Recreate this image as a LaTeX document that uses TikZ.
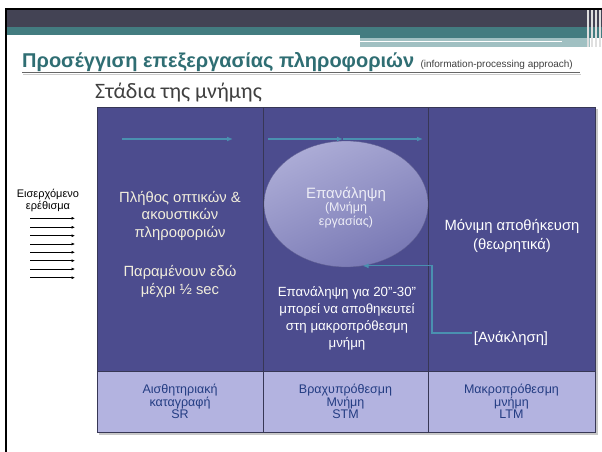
\documentclass[tikz,border=0pt]{standalone}
\usepackage{fontspec}
\setmainfont{Liberation Sans}
\newfontfamily\stagefont{Carlito}
\usetikzlibrary{positioning,arrows.meta,shapes.geometric}

\definecolor{hdark}{RGB}{67,67,84}
\definecolor{hteal}{RGB}{67,124,128}
\definecolor{hlight}{RGB}{160,192,194}
\definecolor{titleteal}{RGB}{47,110,115}
\definecolor{stagegray}{RGB}{64,64,64}
\definecolor{celldark}{RGB}{76,76,142}
\definecolor{celllight}{RGB}{179,179,224}
\definecolor{cellline}{RGB}{55,55,85}
\definecolor{flowblue}{RGB}{74,144,176}
\definecolor{cream}{RGB}{242,238,220}
\definecolor{labelblue}{RGB}{35,60,130}
\definecolor{ellA}{RGB}{172,172,214}
\definecolor{ellB}{RGB}{120,120,180}

\tikzset{
  cell/.style={draw=cellline,line width=0.8pt},
  flow/.style={flowblue,line width=1.6pt,-{Latex[length=6pt,width=5pt]}},
  stim/.style={black,line width=0.6pt,-{Latex[length=3.5pt,width=3pt]}},
  bodytext/.style={align=center,inner sep=0pt},
}

\begin{document}
\begin{tikzpicture}[x=1pt,y=-1pt]
\useasboundingbox (0,0) rectangle (602,452);
\fill[white] (0,0) rectangle (602,452);

% header bands
\fill[black] (5,8) rectangle (602,10);
\fill[hdark] (7,10) rectangle (602,27);
\fill[hteal] (7,27) rectangle (602,35);
\fill[hteal] (360,35) rectangle (602,38);
\fill[hlight] (360,38) rectangle (590,47);
\fill[white] (360,41) rectangle (562,42.5);
\foreach \x in {587,591,595,599}
  \fill[white!75!gray] (\x,10) rectangle (\x+1.5,47);
\fill[black] (5,8) rectangle (7,452);

% title
\node[anchor=base west,inner sep=0pt,text=titleteal,font=\fontsize{20}{24}\selectfont\bfseries] (title) at (22,67) {Προσέγγιση επεξεργασίας πληροφοριών};
\node[inner sep=0pt,text=stagegray,font=\fontsize{10}{12}\selectfont,right=6pt of title.base east,anchor=base west] (titleen) {(information-processing approach)};
\fill[black!20] (23,73.5) rectangle (581,74.5);
\draw[black!60,line width=1pt] (22,72) -- (580,72);

\node[anchor=base west,inner sep=0pt,text=stagegray,font=\fontsize{22}{24}\selectfont\stagefont] (stages) at (95,98) {Στάδια της μνήμης};

% table
\fill[black!22] (99,109) rectangle (598,435);
\draw[cell,fill=celldark] (97,107) rectangle (263,371);
\draw[cell,fill=celldark] (263,107) rectangle (428,371);
\draw[cell,fill=celldark] (428,107) rectangle (595,371);
\draw[cell,fill=celllight] (97,371) rectangle (263,432) node[midway,bodytext,text=labelblue,font=\fontsize{12.5}{12}\selectfont] (sr) {Αισθητηριακή\\καταγραφή\\SR};
\draw[cell,fill=celllight] (263,371) rectangle (428,432) node[midway,bodytext,text=labelblue,font=\fontsize{12.5}{12}\selectfont] (stm) {Βραχυπρόθεσμη\\Μνήμη\\STM};
\draw[cell,fill=celllight] (428,371) rectangle (595,432) node[midway,bodytext,text=labelblue,font=\fontsize{12.5}{12}\selectfont] (ltm) {Μακροπρόθεσμη\\μνήμη\\LTM};

% rehearsal ellipse
\node[ellipse,minimum width=164pt,minimum height=126pt,inner sep=0pt,
      shading=axis,top color=ellA,bottom color=ellB,shading angle=25,
      draw=ellB!80!black,line width=0.3pt] (rep) at (346,204) {};
\node[bodytext,text=white!78!ellA,font=\fontsize{15}{15}\selectfont] (reptitle) at (346,194) {Επανάληψη};
\node[bodytext,text=white!78!ellA,font=\fontsize{12.5}{13.5}\selectfont] (repsub) at (346,215) {(Μνήμη\\εργασίας)};

% flow arrows along the top
\coordinate (f1) at (122,139);
\coordinate (f2) at (233,139);
\coordinate (f3) at (268,139);
\coordinate (f4) at (343,139);
\coordinate (f5) at (423,139);
\draw[flow] (f1) -- (f2);
\draw[flow] (f3) -- (f4);
\draw[flow] (f4) -- (f5);

% column texts
\node[bodytext,text=cream,font=\fontsize{14.8}{17.5}\selectfont] (sensory) at (180,215.5) {Πλήθος οπτικών \&\\ακουστικών\\πληροφοριών};
\node[bodytext,text=cream,font=\fontsize{14.8}{18}\selectfont] (stay) at (180,281) {Παραμένουν εδώ\\μέχρι ½ sec};
\node[bodytext,text=white,font=\fontsize{13.3}{17}\selectfont] (repeat) at (347,318.5) {Επανάληψη για 20"-30"\\μπορεί να αποθηκευτεί\\στη μακροπρόθεσμη\\μνήμη};
\node[bodytext,text=white,font=\fontsize{14.8}{19}\selectfont] (perm) at (512,235.5) {Μόνιμη αποθήκευση\\(θεωρητικά)};
\node[bodytext,text=white,font=\fontsize{14.8}{17}\selectfont] (recall) at (511,338) {[Ανάκληση]};

% recall path
\coordinate (bend) at (432,333);
\draw[flow,line width=1.2pt] ([xshift=-2pt]recall.west |- bend) -- (bend) |- (rep.-75);

% incoming stimulus
\node[bodytext,text=black,font=\fontsize{11}{12}\selectfont] (stimlabel) at (48,200.5) {Εισερχόμενο\\ερέθισμα};
\foreach \y [count=\i] in {218.3,227.3,235.7,244,252.3,260.7,269,277.7}{
  \coordinate (sa\i) at (30,\y);
  \coordinate (sb\i) at (75,\y);
  \draw[stim] (sa\i) -- (sb\i);
}
\end{tikzpicture}
\end{document}
